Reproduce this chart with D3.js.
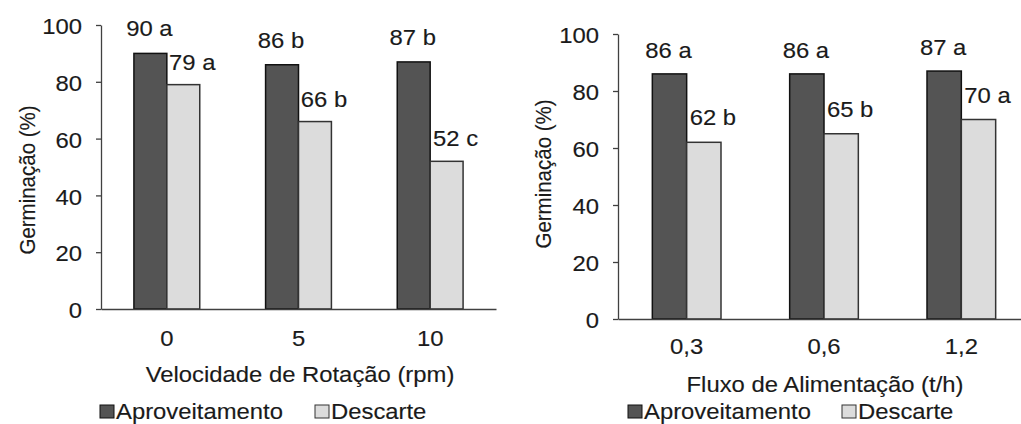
<!DOCTYPE html>
<html>
<head>
<meta charset="utf-8">
<script src="https://cdn.jsdelivr.net/npm/d3@7"></script>
<style>
  body { margin: 0; background: #fff; }
  text { font-family: "Liberation Sans", Arial, sans-serif; fill: #1a1a1a; stroke: #1a1a1a; stroke-width: 0.15px; }
</style>
</head>
<body>
<svg id="chart" width="1021" height="424"></svg>
<script>
// data
var seriesNames = ["Aproveitamento", "Descarte"];

var leftCats = ["0", "5", "10"];
var leftAprov = [90, 86, 87];
var leftDesc = [79, 66, 52];
var leftAprovLbl = ["90 a", "86 b", "87 b"];
var leftDescLbl = ["79 a", "66 b", "52 c"];

var rightCats = ["0,3", "0,6", "1,2"];
var rightAprov = [86, 86, 87];
var rightDesc = [62, 65, 70];
var rightAprovLbl = ["86 a", "86 a", "87 a"];
var rightDescLbl = ["62 b", "65 b", "70 a"];

var yTicks = [0, 20, 40, 60, 80, 100];

var colors = ["#545454", "#dcdcdc"];
var strokes = ["#111", "#333"];
var FS = 22.5;    // font size
var SX = 1.06;    // the source image is stretched a bit horizontally

var svg = d3.select("#chart");

function stretch(sel, x, y) {
    sel.attr("x", 0).attr("y", 0)
        .attr("transform", "translate(" + x + "," + y + ") scale(" + SX + ",1)");
}

function drawChart(opt) {
    var g = svg.append("g");

    var y = d3.scaleLinear().domain([0, 100]).range([opt.y0, opt.y100]);
    var x0 = d3.scaleBand().domain(opt.cats).range([opt.xl, opt.xr])
        .paddingInner(0.5).paddingOuter(0.25);
    var x1 = d3.scaleBand().domain([0, 1]).range([0, x0.bandwidth()]);

    // y axis
    var ya = g.append("g")
        .attr("transform", "translate(" + opt.xl + ",0)")
        .call(d3.axisLeft(y).tickValues(yTicks).tickSize(5).tickSizeOuter(0));
    ya.select(".domain").attr("stroke", "#404040").attr("stroke-width", 1.3);
    ya.selectAll(".tick line").attr("stroke", "#404040").attr("stroke-width", 1.3);
    ya.selectAll(".tick text")
        .attr("font-size", FS)
        .attr("dy", null)
        .attr("dominant-baseline", "central")
        .each(function () { stretch(d3.select(this), -19, 1); });

    // bars
    var rows = opt.cats.map(function (c, i) {
        return { cat: c, vals: [opt.a[i], opt.d[i]], lbls: [opt.al[i], opt.dl[i]] };
    });
    var grp = g.selectAll(".grp").data(rows).enter().append("g")
        .attr("transform", function (d) { return "translate(" + x0(d.cat) + ",0)"; });
    grp.selectAll("rect").data(function (d) { return d.vals; }).enter().append("rect")
        .attr("x", function (d, i) { return x1(i); })
        .attr("y", function (d) { return y(d); })
        .attr("width", x1.bandwidth())
        .attr("height", function (d) { return y(0) - y(d); })
        .attr("fill", function (d, i) { return colors[i]; })
        .attr("stroke", function (d, i) { return strokes[i]; })
        .attr("stroke-width", 1.5);
    grp.each(function (d) {
        var gg = d3.select(this);
        d.vals.forEach(function (v, i) {
            gg.append("text")
                .attr("font-size", FS)
                .attr("text-anchor", "middle")
                .text(d.lbls[i])
                .call(stretch, x1(i) + x1.bandwidth() / 2 + opt.ldx[i], y(v) - opt.ldy[i]);
        });
    });

    // x axis
    var xa = g.append("g")
        .attr("transform", "translate(0," + opt.y0 + ")")
        .call(d3.axisBottom(x0).tickSize(0).tickSizeOuter(0));
    xa.select(".domain").attr("stroke", "#404040").attr("stroke-width", 1.5);
    xa.selectAll(".tick text")
        .attr("font-size", FS)
        .attr("dy", null)
        .each(function () { stretch(d3.select(this), 0, opt.tickDy); });

    // titles
    g.append("text")
        .attr("font-size", FS)
        .attr("text-anchor", "middle")
        .text(opt.xTitle)
        .call(stretch, opt.xTitleX, opt.xTitleY);
    g.append("text")
        .attr("font-size", 20.5)
        .attr("text-anchor", "middle")
        .attr("transform", "translate(" + opt.yTitleX + "," + opt.yTitleY + ") rotate(-90) scale(1," + SX + ")")
        .text("Germinação (%)");

    // legend
    var lg = g.append("g");
    seriesNames.forEach(function (s, i) {
        var lx = opt.legX[i];
        lg.append("rect")
            .attr("x", lx).attr("y", opt.legY - 13)
            .attr("width", 14).attr("height", 13)
            .attr("fill", colors[i])
            .attr("stroke", strokes[i]).attr("stroke-width", 1);
        lg.append("text")
            .attr("font-size", FS)
            .text(s)
            .call(stretch, lx + 16, opt.legY + 1);
    });
}

drawChart({
    cats: leftCats, a: leftAprov, d: leftDesc, al: leftAprovLbl, dl: leftDescLbl,
    xl: 101, xr: 496, y0: 309, y100: 25,
    ldx: [-1, 9], ldy: [17, 15], tickDy: 37,
    xTitle: "Velocidade de Rotação (rpm)", xTitleX: 300, xTitleY: 382,
    yTitleX: 35, yTitleY: 180,
    legX: [100, 315], legY: 418
});

drawChart({
    cats: rightCats, a: rightAprov, d: rightDesc, al: rightAprovLbl, dl: rightDescLbl,
    xl: 618, xr: 1030, y0: 319, y100: 34,
    ldx: [-1, 9], ldy: [16, 17], tickDy: 35,
    xTitle: "Fluxo de Alimentação (t/h)", xTitleX: 825, xTitleY: 392,
    yTitleX: 551, yTitleY: 174,
    legX: [628, 842], legY: 418
});
</script>
</body>
</html>
